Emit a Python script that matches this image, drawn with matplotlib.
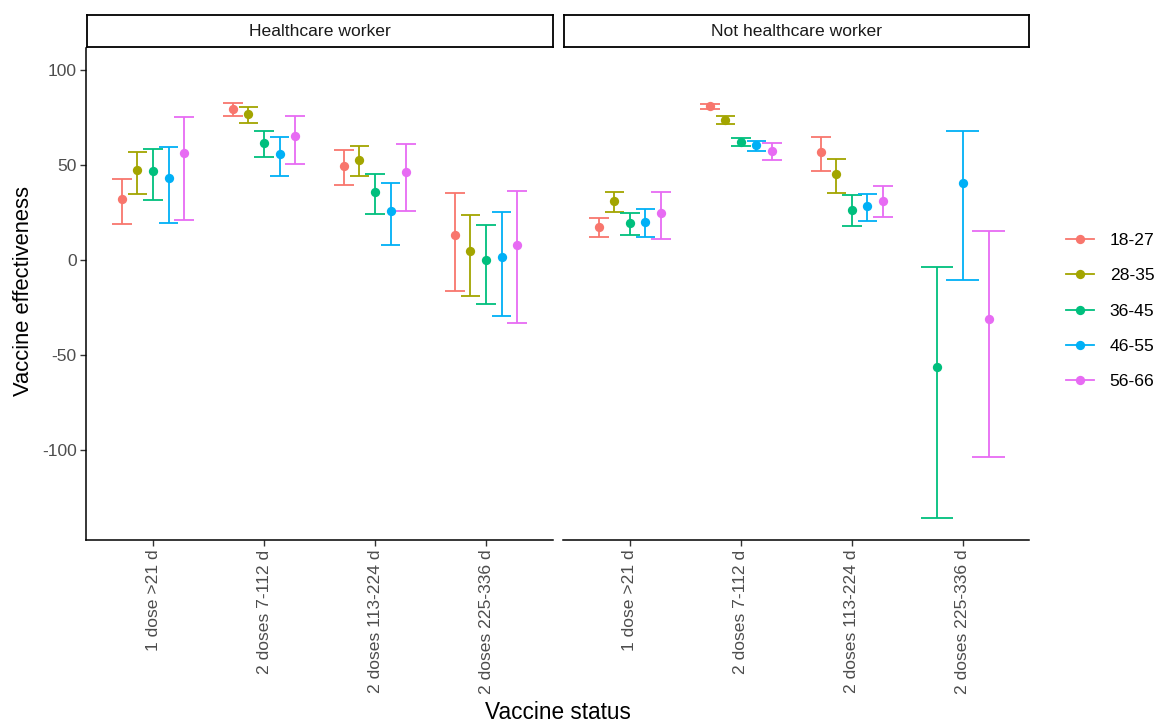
import numpy as np
import matplotlib
matplotlib.use("Agg")
import matplotlib.pyplot as plt
from matplotlib.lines import Line2D

plt.rcParams['font.family'] = ['Liberation Sans', 'DejaVu Sans']

categories = ["1 dose >21 d", "2 doses 7-112 d", "2 doses 113-224 d", "2 doses 225-336 d"]
age_groups = ["18-27", "28-35", "36-45", "46-55", "56-66"]
facets = ["Healthcare worker", "Not healthcare worker"]
colors = ["#F8766D", "#A3A500", "#00BF7D", "#00B0F6", "#E76BF3"]

nan = np.nan
# rows: categories, columns: age groups
hcw_est = [[31.9, 47.4, 46.7, 43.0, 56.1],
           [79.5, 76.8, 61.6, 55.8, 65.3],
           [49.3, 52.6, 35.8, 26.0, 46.1],
           [13.2, 4.7, -0.2, 1.8, 7.9]]
hcw_low = [[18.9, 34.7, 31.6, 19.3, 21.1],
           [75.6, 72.3, 54.0, 44.0, 50.5],
           [39.3, 44.2, 24.2, 7.7, 26.0],
           [-16.5, -18.8, -23.2, -29.5, -33.3]]
hcw_up = [[42.8, 57.0, 58.2, 59.6, 75.4],
          [82.8, 80.5, 67.7, 64.9, 75.6],
          [57.7, 59.8, 45.3, 40.5, 60.9],
          [35.1, 23.5, 18.6, 25.3, 36.5]]

nhcw_est = [[17.4, 30.9, 19.3, 20.0, 24.7],
            [80.9, 73.7, 62.3, 60.4, 57.4],
            [56.7, 45.1, 26.3, 28.4, 31.1],
            [nan, nan, -56.1, 40.5, -31.2]]
nhcw_low = [[12.1, 25.3, 13.2, 12.1, 11.2],
            [79.3, 71.8, 59.8, 57.5, 52.6],
            [47.0, 35.1, 17.9, 20.7, 22.5],
            [nan, nan, -136.0, -10.7, -103.5]]
nhcw_up = [[21.9, 35.6, 24.6, 27.0, 35.8],
           [82.3, 75.6, 64.2, 62.8, 61.6],
           [64.6, 53.3, 34.2, 34.9, 38.8],
           [nan, nan, -3.5, 67.9, 15.4]]

yticks = [-100, -50, 0, 50, 100]

W, H = 1159, 722
fig = plt.figure(figsize=(W / 100, H / 100), dpi=100)

def px_rect(x0, y0, x1, y1):
    return [x0 / W, 1 - y1 / H, (x1 - x0) / W, (y1 - y0) / H]

panel_px = [(86.4, 48, 552.6, 540), (563.4, 48, 1029.3, 540)]
data = [(hcw_est, hcw_low, hcw_up), (nhcw_est, nhcw_low, nhcw_up)]

dodge_w = 0.7
cap_w = 0.88
tick_color = "#4D4D4D"
tick_fs = 12.6
title_fs = 16.3

for p, (box, (est, low, up)) in enumerate(zip(panel_px, data)):
    ax = fig.add_axes(px_rect(*box))
    est = np.array(est, dtype=float)
    low = np.array(low, dtype=float)
    up = np.array(up, dtype=float)
    for ci in range(len(categories)):
        present = [gi for gi in range(len(age_groups)) if not np.isnan(est[ci, gi])]
        n = len(present)
        for k, gi in enumerate(present):
            x = ci + 1 + (k - (n - 1) / 2) * dodge_w / n
            hw = cap_w / n / 2
            c = colors[gi]
            ax.vlines(x, low[ci, gi], up[ci, gi], color=c, lw=1.3, zorder=2)
            ax.hlines([low[ci, gi], up[ci, gi]], x - hw, x + hw, color=c, lw=1.3, zorder=2)
            ax.plot([x], [est[ci, gi]], 'o', color=c, ms=6.7, mec='none', zorder=3)
    ax.set_xlim(0.4, 4.6)
    ax.set_ylim(-147.4, 111.6)
    ax.set_xticks(range(1, 5))
    ax.set_xticklabels(categories, rotation=90, fontsize=tick_fs, color=tick_color)
    ax.set_yticks(yticks)
    ax.set_yticklabels([str(v) for v in yticks], fontsize=tick_fs, color=tick_color)
    for s in ["top", "right"]:
        ax.spines[s].set_visible(False)
    ax.spines["bottom"].set_linewidth(1.1)
    ax.spines["left"].set_linewidth(1.1)
    ax.tick_params(axis='both', length=4, width=1, color="#333333", pad=3)
    if p == 1:
        ax.spines["left"].set_visible(False)
        ax.tick_params(axis='y', left=False, labelleft=False)
    ax.patch.set_alpha(0)

    # strip
    sx0, sx1 = box[0], box[2]
    sax = fig.add_axes(px_rect(sx0 + 1, 15, sx1, 47))
    sax.set_xticks([])
    sax.set_yticks([])
    for s in sax.spines.values():
        s.set_linewidth(1.3)
        s.set_color("black")
    sax.text(0.5, 0.5, facets[p], ha='center', va='center', fontsize=tick_fs,
             color="#1A1A1A", transform=sax.transAxes)

fig.text(24 / W, 1 - 291 / H, "Vaccine effectiveness", ha='center', va='center',
         rotation=90, fontsize=15.8)
fig.text(557.8 / W, 1 - 719 / H, "Vaccine status", ha='center', va='baseline', fontsize=title_fs)

handles = [Line2D([0], [0], color=c, lw=1.3, marker='o', ms=6.7, mec='none') for c in colors]
fig.legend(handles, age_groups, loc='center left', bbox_to_anchor=(1066 / W, 1 - 311 / H),
           frameon=False, fontsize=tick_fs, borderpad=0, labelspacing=1.15,
           handlelength=1.6, handletextpad=0.9, borderaxespad=0)

fig.savefig("out.png", dpi=100)
